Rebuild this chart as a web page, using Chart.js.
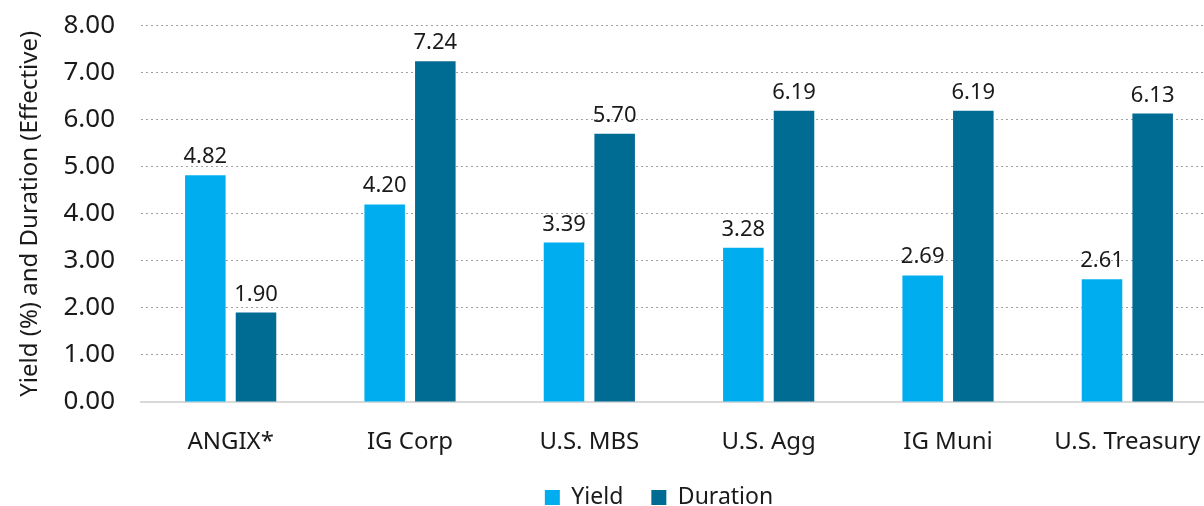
<!DOCTYPE html>
<html>
<head>
<meta charset="utf-8">
<script src="https://cdn.jsdelivr.net/npm/chart.js@4"></script>
<style>
  html, body { margin: 0; padding: 0; background: #fff; overflow: hidden; }
  #wrap { width: 1302px; height: 535px; margin-top: -16px; }
</style>
</head>
<body>
<div id="wrap"><canvas id="monChart"></canvas></div>
<script>
  const categories = ['ANGIX*', 'IG Corp', 'U.S. MBS', 'U.S. Agg', 'IG Muni', 'U.S. Treasury'];
  const yieldValues = [4.82, 4.20, 3.39, 3.28, 2.69, 2.61];
  const durationValues = [1.90, 7.24, 5.70, 6.19, 6.19, 6.13];
  const yTicks = [0, 1, 2, 3, 4, 5, 6, 7, 8];

  const police = 'Noto Sans, sans-serif';

  // étiquettes de valeur au-dessus des barres
  const etiquettes = {
    id: 'etiquettes',
    afterDatasetsDraw(chart) {
      const ctx = chart.ctx;
      ctx.save();
      ctx.font = '22px ' + police;
      ctx.fillStyle = '#1a1a1a';
      ctx.textAlign = 'center';
      ctx.textBaseline = 'alphabetic';
      chart.data.datasets.forEach((ds, i) => {
        chart.getDatasetMeta(i).data.forEach((bar, j) => {
          ctx.fillText(ds.data[j].toFixed(2), bar.x, bar.y - 12);
        });
      });
      ctx.restore();
    }
  };

  const ctx = document.getElementById('monChart').getContext('2d');
  new Chart(ctx, {
    type: 'bar',
    data: {
      labels: categories,
      datasets: [
        { label: 'Yield', data: yieldValues, backgroundColor: '#00AEEF' },
        { label: 'Duration', data: durationValues, backgroundColor: '#006B93' }
      ]
    },
    options: {
      responsive: true,
      maintainAspectRatio: false,
      animation: false,
      categoryPercentage: 0.565,
      barPercentage: 0.8,
      layout: { padding: { top: 0, left: 16, right: 0, bottom: 0 } },
      plugins: {
        legend: {
          position: 'bottom',
          labels: {
            boxWidth: 15,
            boxHeight: 15,
            padding: 28,
            color: '#1a1a1a',
            font: { family: police, size: 23 }
          }
        },
        tooltip: { enabled: false }
      },
      scales: {
        x: {
          afterFit: (axis) => { axis.height = 56; },
          grid: { display: false, drawTicks: false },
          border: { color: '#d9d9d9', width: 2 },
          ticks: { color: '#1a1a1a', padding: 26, font: { family: police, size: 24 } }
        },
        y: {
          min: 0,
          max: 8,
          afterBuildTicks: (axis) => { axis.ticks = yTicks.map(v => ({ value: v })); },
          afterFit: (axis) => { axis.width = 125; },
          grid: { color: '#a0a0a0', drawTicks: false, lineWidth: 1 },
          border: { display: false, dash: [2, 3] },
          ticks: {
            color: '#1a1a1a',
            padding: 26,
            font: { family: police, size: 26 },
            callback: (v) => v.toFixed(2)
          },
          title: {
            display: true,
            text: 'Yield (%) and Duration (Effective)',
            color: '#1a1a1a',
            font: { family: police, size: 24 },
            padding: 0
          }
        },
        // axe vide à droite : réserve la place hors fenêtre
        droite: {
          position: 'right',
          grid: { display: false, drawTicks: false },
          border: { display: false },
          ticks: { display: false },
          afterFit: (axis) => { axis.width = 85; }
        }
      }
    },
    plugins: [etiquettes]
  });
</script>
</body>
</html>
